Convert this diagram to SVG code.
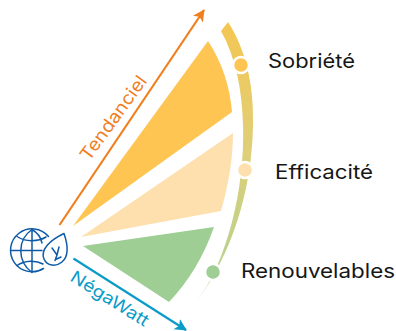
<svg xmlns="http://www.w3.org/2000/svg" width="396" height="331" viewBox="0 0 396 331">
<style>
text{font-family:"Inter","Liberation Sans",sans-serif}
.lab{font-size:19.5px;fill:#161616}
.ic{fill:none;stroke:#0f5aa6;stroke-width:1.5;stroke-linecap:round;stroke-linejoin:round}
.dot{stroke:#fff;stroke-width:2.5}
</style>
<defs>
<linearGradient id="band" gradientUnits="userSpaceOnUse" x1="230" y1="20" x2="200" y2="305">
<stop offset="0" stop-color="#f5c652"/><stop offset="0.45" stop-color="#dfcf78"/><stop offset="0.8" stop-color="#bdd18a"/><stop offset="1" stop-color="#d5e5c0"/>
</linearGradient>
<marker id="ao" markerUnits="userSpaceOnUse" markerWidth="14" markerHeight="14" refX="11" refY="6" orient="auto"><path d="M0 0L12 6L0 12L3 6Z" fill="#f07f1f"/></marker>
<marker id="ab" markerUnits="userSpaceOnUse" markerWidth="14" markerHeight="14" refX="11" refY="6" orient="auto"><path d="M0 0L12 6L0 12L3 6Z" fill="#0a9cc7"/></marker>
</defs>
<g id="band-arc"><path d="M228 22C246 50 254 85 253 125C252 190 232 255 195 304C227 262 245 190 243 125C242 90 236 58 221 31Z" fill="url(#band)"/></g>
<g id="wedge-sobriete"><path d="M73 226L208 41C222 62 230 87 232 112Z" fill="#fec553"/></g>
<g id="wedge-efficacite"><path d="M81 237L233 133C233 160 228 186 221 211Z" fill="#fee0ae"/></g>
<g id="wedge-renouvelables"><path d="M83 246L214 227C204 256 188 282 169 302Z" fill="#9ece94"/></g>
<g id="connectors">
<path d="M59.500 225L204 10" stroke="#f07f1f" stroke-width="2.200" fill="none" marker-end="url(#ao)"/>
<path d="M73.500 258.500L186 330" stroke="#0a9cc7" stroke-width="2.200" fill="none" marker-end="url(#ab)"/>
</g>
<g id="node-sobriete"><circle class="dot" cx="241" cy="65" r="8" fill="#fec553"/><text class="lab" x="268" y="68" textLength="87" lengthAdjust="spacingAndGlyphs">Sobriété</text></g>
<g id="node-efficacite"><circle class="dot" cx="245" cy="170" r="8" fill="#fee0ae"/><text class="lab" x="275" y="179" textLength="98" lengthAdjust="spacingAndGlyphs">Efficacité</text></g>
<g id="node-renouvelables"><circle class="dot" cx="213" cy="272" r="8" fill="#9ece94"/><text class="lab" x="241" y="278" textLength="154" lengthAdjust="spacingAndGlyphs">Renouvelables</text></g>
<g id="label-tendanciel"><text font-size="18" fill="#f07f1f" transform="translate(89,162) rotate(-54)" textLength="100" lengthAdjust="spacingAndGlyphs">Tendanciel</text></g>
<g id="label-negawatt"><text font-size="17" fill="#0a9cc7" transform="translate(69,280) rotate(32)" textLength="89" lengthAdjust="spacingAndGlyphs">NégaWatt</text></g>
<g id="icon-globe-leaf">
<path class="ic" d="M48.500 236.500A21.500 21.500 0 1 0 43.500 268.500"/>
<path class="ic" d="M32 229.500V272.500M11 250.500H42M17 236.500C25 242 38 242 46 237M17 265.500C25 260 36 260 43 264M32 229.500C17 240 17 261 32 272.500M32 229.500C38 233 41 238 42 243"/>
<path class="ic" d="M64 233.500C68 245 69 256 62 262C56 267 47 266 44 259C40 250 50 240 64 233.500Z"/>
<path class="ic" d="M52 248L57 255L59 247M57 255L55 260.500M55.500 259.500L61 257"/>
</g>
</svg>
